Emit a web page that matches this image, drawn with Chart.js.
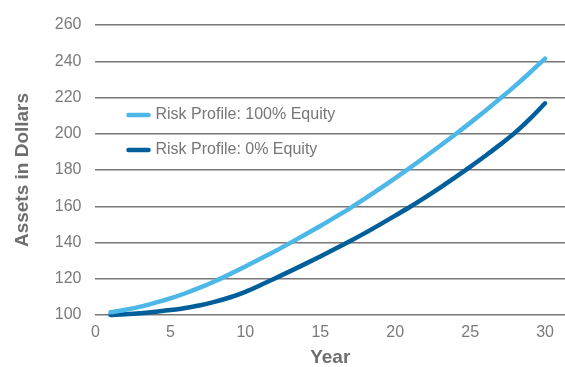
<!DOCTYPE html>
<html>
<head>
<meta charset="utf-8">
<script src="https://cdn.jsdelivr.net/npm/chart.js@4"></script>
<style>
  html, body { margin: 0; padding: 0; background: #fff; }
  #wrap { width: 565px; height: 367px; }
</style>
</head>
<body>
<div id="wrap"><canvas id="assetsChart"></canvas></div>
<script>
  // Anos da simulação
  const years = [1, 2, 3, 4, 5, 6, 7, 8, 9, 10, 11, 12, 13, 14, 15,
                 16, 17, 18, 19, 20, 21, 22, 23, 24, 25, 26, 27, 28, 29, 30];

  // Perfil 100% ações
  const equity100 = [101.5, 102.9, 104.6, 106.8, 109.2, 112.0, 115.2, 118.8, 122.7, 126.8,
                     131.0, 135.3, 139.8, 144.4, 149.1, 154.0, 159.0, 164.3, 169.8, 175.5,
                     181.3, 187.3, 193.4, 199.6, 206.0, 212.6, 219.4, 226.4, 233.8, 241.5];

  // Perfil 0% ações
  const equity0 = [100.0, 100.4, 101.0, 101.8, 102.7, 103.9, 105.4, 107.4, 109.8, 112.8,
                   116.4, 120.3, 124.2, 128.2, 132.3, 136.5, 140.8, 145.3, 150.0, 154.8,
                   159.7, 164.9, 170.3, 175.9, 181.7, 187.7, 194.0, 200.6, 208.3, 216.8];

  const seriesLabels = ['Risk Profile: 100% Equity', 'Risk Profile: 0% Equity'];
  const xTicks = [0, 5, 10, 15, 20, 25, 30];
  const yTicks = [100, 120, 140, 160, 180, 200, 220, 240, 260];

  const FONT = '"Liberation Sans", Arial, sans-serif';

  // Legenda desenhada dentro da área do gráfico
  const innerLegend = {
    id: 'innerLegend',
    afterDatasetsDraw(chart) {
      const ctx = chart.ctx;
      const area = chart.chartArea;
      const x0 = area.left + 33;
      let y = area.top + 90;
      ctx.save();
      ctx.font = '16px ' + FONT;
      ctx.textBaseline = 'middle';
      chart.data.datasets.forEach(ds => {
        ctx.strokeStyle = ds.borderColor;
        ctx.lineWidth = 4.5;
        ctx.lineCap = 'round';
        ctx.beginPath();
        ctx.moveTo(x0, y);
        ctx.lineTo(x0 + 20, y);
        ctx.stroke();
        ctx.fillStyle = '#767676';
        ctx.fillText(ds.label, x0 + 27, y);
        y += 35;
      });
      ctx.restore();
    }
  };

  new Chart(document.getElementById('assetsChart'), {
    type: 'line',
    data: {
      datasets: [
        {
          label: seriesLabels[0],
          data: years.map((x, i) => ({ x: x, y: equity100[i] })),
          borderColor: '#4db8e8',
          borderWidth: 4.5,
          borderCapStyle: 'round',
          pointRadius: 0,
          cubicInterpolationMode: 'monotone',
          clip: false
        },
        {
          label: seriesLabels[1],
          data: years.map((x, i) => ({ x: x, y: equity0[i] })),
          borderColor: '#005f9a',
          borderWidth: 4.5,
          borderCapStyle: 'round',
          pointRadius: 0,
          cubicInterpolationMode: 'monotone',
          clip: false
        }
      ]
    },
    options: {
      responsive: true,
      maintainAspectRatio: false,
      animation: false,
      layout: { padding: { top: 25, right: 0, left: 11, bottom: -2 } },
      plugins: {
        legend: { display: false },
        tooltip: { enabled: false }
      },
      scales: {
        x: {
          type: 'linear',
          min: 0,
          max: 31.33,
          afterBuildTicks: scale => { scale.ticks = xTicks.map(v => ({ value: v })); },
          grid: { display: false, drawTicks: false },
          border: { display: false },
          ticks: { color: '#7a7a7a', font: { family: FONT, size: 16 }, padding: 8 },
          title: {
            display: true,
            text: 'Year',
            color: '#6e6e6e',
            font: { family: FONT, size: 19, weight: 'bold' },
            padding: { top: -4, bottom: 0 }
          }
        },
        y: {
          min: 100,
          max: 260,
          afterBuildTicks: scale => { scale.ticks = yTicks.map(v => ({ value: v })); },
          grid: { color: '#777777', lineWidth: 1.5, drawTicks: false },
          border: { display: false },
          ticks: { color: '#7a7a7a', font: { family: FONT, size: 16 }, padding: 14 },
          title: {
            display: true,
            text: 'Assets in Dollars',
            color: '#6e6e6e',
            font: { family: FONT, size: 19, weight: 'bold' },
            padding: { top: 0, bottom: 7 }
          }
        }
      }
    },
    plugins: [innerLegend]
  });
</script>
</body>
</html>
